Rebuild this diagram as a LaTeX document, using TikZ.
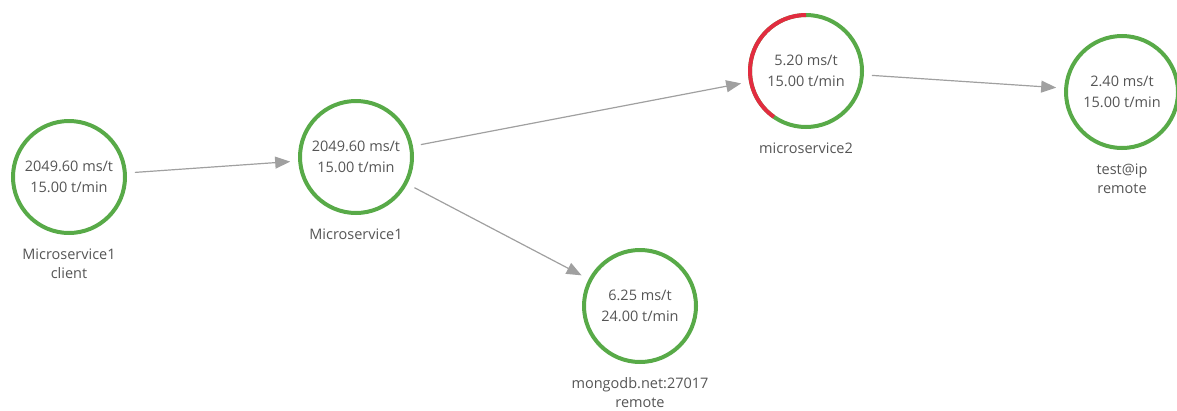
\documentclass[tikz,border=0pt]{standalone}
\usepackage{fontspec}
\setmainfont{Open Sans}
\usetikzlibrary{arrows.meta, positioning}

\begin{document}
\begin{tikzpicture}[x=1pt, y=-1pt]

  % Colors
  \definecolor{okgreen}{RGB}{88,170,72}
  \definecolor{errred}{RGB}{226,44,64}
  \definecolor{linkgray}{RGB}{160,160,160}
  \definecolor{textgray}{RGB}{85,85,85}

  \tikzset{
    service/.style={circle, draw=okgreen, line width=4pt, minimum size=112pt,
      inner sep=0pt, outer sep=10pt, align=center, text=textgray,
      font=\fontsize{14.5}{21}\selectfont,
      execute at begin node=\rule{0pt}{14pt}},
    caption/.style={anchor=north, align=center, text=textgray,
      font=\fontsize{14.5}{19}\selectfont},
    link/.style={-{Triangle[length=15pt, width=12pt]}, draw=linkgray, line width=1.2pt}
  }

  \useasboundingbox (0,0) rectangle (1177,410);

  % Services
  \node[service] (client) at (69,177) {2049.60 ms/t\\15.00 t/min};
  \node[service] (ms1) at (356,157) {2049.60 ms/t\\15.00 t/min};
  \node[service] (ms2) at (806,71) {5.20 ms/t\\15.00 t/min};
  \node[service] (testip) at (1122,92) {2.40 ms/t\\15.00 t/min};
  \node[service] (mongo) at (640,306) {6.25 ms/t\\24.00 t/min};

  % Error share of microservice2
  \draw[errred, line width=4pt] (ms2.center) ++(90:56pt) arc[start angle=90, end angle=235, radius=56pt];

  % Captions
  \node[caption] (clientcap) at ([yshift=-68pt]client.center) {Microservice1\\client};
  \node[caption] (ms1cap) at ([yshift=-68pt]ms1.center) {Microservice1};
  \node[caption] (ms2cap) at ([yshift=-68pt]ms2.center) {microservice2};
  \node[caption] (testipcap) at ([yshift=-68pt]testip.center) {test@ip\\remote};
  \node[caption] (mongocap) at ([yshift=-68pt]mongo.center) {mongodb.net:27017\\remote};

  % Calls
  \draw[link] (client) -- (ms1);
  \draw[link] (ms1) -- (ms2);
  \draw[link] (ms1) -- (mongo);
  \draw[link] (ms2) -- (testip);

\end{tikzpicture}
\end{document}
